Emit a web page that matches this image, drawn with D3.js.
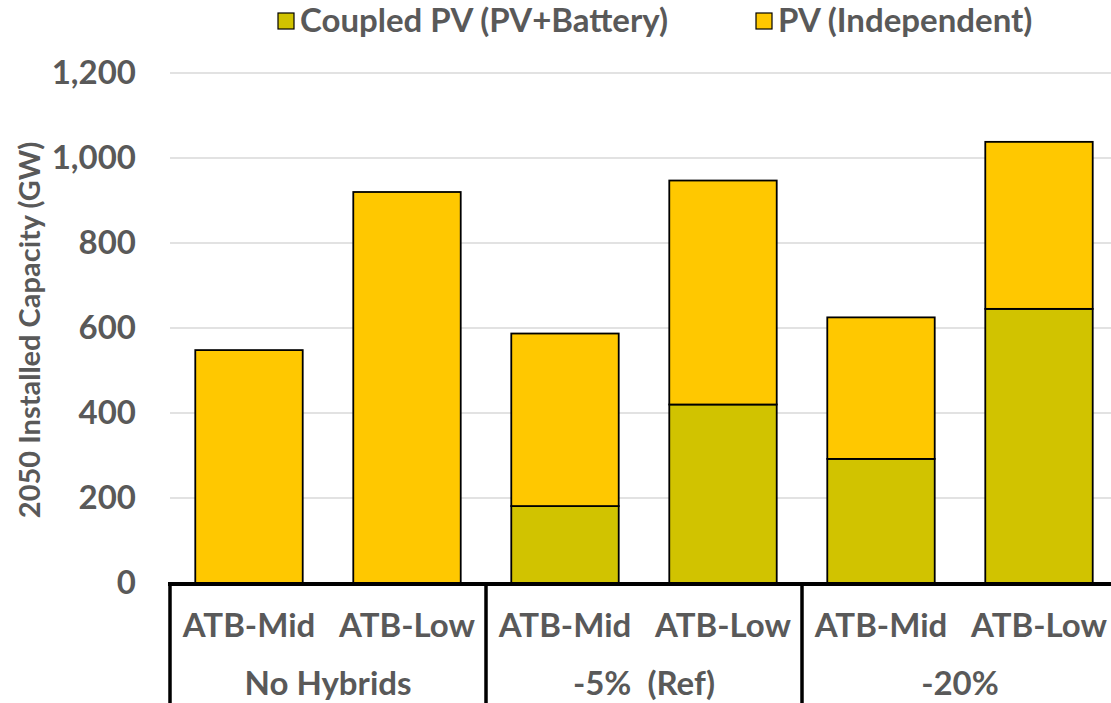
<!DOCTYPE html>
<html>
<head>
<meta charset="utf-8">
<script src="https://cdn.jsdelivr.net/npm/d3@7"></script>
<style>
  body { margin: 0; background: #fff; }
  text { font-family: "Lato", "Open Sans", sans-serif; font-weight: 700; fill: #595959; }
</style>
</head>
<body>
<div id="chart"></div>
<script>
// Chart values
const groups = ["No Hybrids", "-5%  (Ref)", "-20%"];
const categories = ["ATB-Mid", "ATB-Low", "ATB-Mid", "ATB-Low", "ATB-Mid", "ATB-Low"];
const coupled = [0, 0, 181, 420, 292, 645];
const independent = [548, 920, 406, 527, 333, 393];
const seriesNames = ["Coupled PV (PV+Battery)", "PV (Independent)"];
const yTicks = [0, 200, 400, 600, 800, 1000, 1200];

const colors = { coupled: "#D1C300", independent: "#FFC800" };

const W = 1111, H = 703;
const plotLeft = 170, plotRight = 1118, y0 = 583, yTop = 73;

const svg = d3.select("#chart").append("svg")
  .attr("width", W)
  .attr("height", H);

// Build rows for stacking
const rows = categories.map((c, i) => ({
  idx: i,
  coupled: coupled[i],
  independent: independent[i]
}));

const stack = d3.stack().keys(["coupled", "independent"]);
const stacked = stack(rows);

// Scales
const x = d3.scaleBand()
  .domain(rows.map(d => d.idx))
  .range([plotLeft, plotRight])
  .paddingInner(0.32)
  .paddingOuter(0.16);

const y = d3.scaleLinear()
  .domain([0, 1200])
  .range([y0, yTop]);

// Gridlines
svg.append("g")
  .selectAll("line")
  .data(yTicks.filter(d => d > 0))
  .enter()
  .append("line")
  .attr("x1", plotLeft)
  .attr("x2", W)
  .attr("y1", d => y(d))
  .attr("y2", d => y(d))
  .attr("stroke", "#d9d9d9")
  .attr("stroke-width", 1.3);

// Y axis tick labels
const yAxis = svg.append("g")
  .attr("transform", `translate(${plotLeft},0)`)
  .call(d3.axisLeft(y).tickValues(yTicks).tickFormat(d3.format(",")).tickSize(0).tickPadding(34));
yAxis.select(".domain").remove();
yAxis.selectAll("text")
  .style("font-family", "Lato, 'Open Sans', sans-serif")
  .style("font-weight", 700)
  .style("font-size", "33px")
  .attr("fill", "#595959");

// Y axis title
svg.append("text")
  .attr("transform", `translate(40,330) rotate(-90)`)
  .attr("text-anchor", "middle")
  .style("font-size", "29px")
  .text("2050 Installed Capacity (GW)");

// Bars
svg.append("g")
  .selectAll("g")
  .data(stacked)
  .enter()
  .append("g")
  .attr("fill", d => colors[d.key])
  .selectAll("rect")
  .data(d => d.filter(s => s[1] - s[0] > 0))
  .enter()
  .append("rect")
  .attr("x", d => x(d.data.idx))
  .attr("y", d => y(d[1]))
  .attr("width", x.bandwidth())
  .attr("height", d => y(d[0]) - y(d[1]))
  .attr("stroke", "#000")
  .attr("stroke-width", 1.8);

// Category axis: baseline and group separators
svg.append("line")
  .attr("x1", plotLeft - 2)
  .attr("x2", W)
  .attr("y1", y0 + 1)
  .attr("y2", y0 + 1)
  .attr("stroke", "#000")
  .attr("stroke-width", 4);

const step = x.step();
const groupEdges = d3.range(groups.length + 1).map(g => plotLeft + g * step * 2);
svg.append("g")
  .selectAll("line")
  .data(groupEdges)
  .enter()
  .append("line")
  .attr("x1", d => d)
  .attr("x2", d => d)
  .attr("y1", y0 - 1)
  .attr("y2", H)
  .attr("stroke", "#000")
  .attr("stroke-width", 3.5);

// Category labels
svg.append("g")
  .selectAll("text")
  .data(rows)
  .enter()
  .append("text")
  .attr("x", d => x(d.idx) + x.bandwidth() / 2)
  .attr("y", 637)
  .attr("text-anchor", "middle")
  .style("font-size", "33px")
  .text(d => categories[d.idx]);

// Group labels
svg.append("g")
  .selectAll("text")
  .data(groups)
  .enter()
  .append("text")
  .attr("x", (d, i) => plotLeft + (i + 0.5) * step * 2)
  .attr("y", 695)
  .attr("text-anchor", "middle")
  .style("font-size", "33px")
  .style("white-space", "pre")
  .text(d => d);

// Legend
const legendItems = [
  { name: seriesNames[0], color: colors.coupled, x: 278 },
  { name: seriesNames[1], color: colors.independent, x: 756 }
];
const legend = svg.append("g")
  .selectAll("g")
  .data(legendItems)
  .enter()
  .append("g")
  .attr("transform", d => `translate(${d.x},0)`);
legend.append("rect")
  .attr("x", 0)
  .attr("y", 13)
  .attr("width", 16)
  .attr("height", 16)
  .attr("fill", d => d.color)
  .attr("stroke", "#000")
  .attr("stroke-width", 1.2);
legend.append("text")
  .attr("x", 22)
  .attr("y", 32)
  .style("font-size", "33px")
  .text(d => d.name);
</script>
</body>
</html>
